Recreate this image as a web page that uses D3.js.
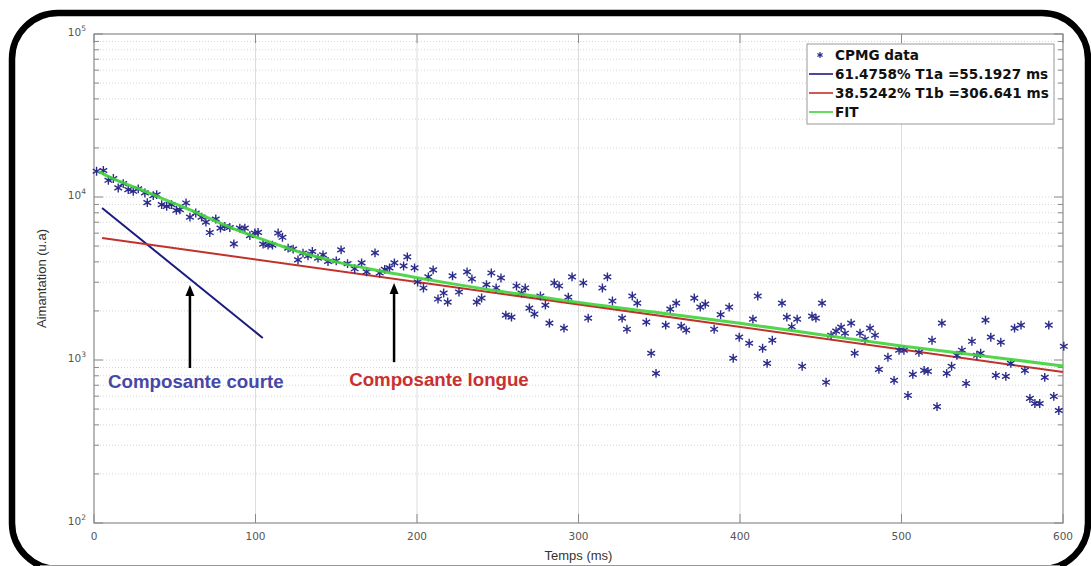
<!DOCTYPE html>
<html>
<head>
<meta charset="utf-8">
<script src="https://cdn.jsdelivr.net/npm/d3@7"></script>
<style>
  body { margin: 0; background: #fff; }
  svg { display: block; }
</style>
</head>
<body>
<svg id="chart" width="1091" height="566"></svg>
<script>
// --- data ---
const xTicks = [0, 100, 200, 300, 400, 500, 600];
const yDecades = [100, 1000, 10000, 100000];
const yExponents = ["2", "3", "4", "5"];

// CPMG echoes (ms, a.u.)
const timeMs = [
  1.6, 5.8, 8.9, 12, 15, 18.1, 21.2, 24.3, 27.4, 31.5, 33, 36.7, 38.8, 41.9, 45, 48, 51, 53.2, 57, 59.4,
  63, 66.6, 69.3, 71.7, 75.4, 78.3, 81, 84.1, 86.6, 90.3, 93.4, 96.5, 99.6, 101.6, 104.7, 107.8, 110.5, 114, 116.7, 120.2,
  123.3, 126.3, 129.4, 132.5, 135.2, 138.7, 141.8, 144.9, 150, 153, 157, 161.4, 165.7, 168.8, 174, 176.9, 180, 183, 186, 191.7,
  194, 198.5, 200.4, 204, 207, 210, 213, 216.5, 219, 222, 226, 231, 234, 237, 240, 243, 246, 249, 252, 255,
  258.5, 261.6, 264.7, 267, 269.6, 272.7, 276.4, 279.5, 282, 285, 288, 291, 293.7, 296, 303, 306, 314.8, 317.9, 321, 327,
  330, 333.3, 336.4, 342, 345, 348, 354, 356.8, 360.5, 363.6, 366.7, 371.7, 375.4, 378.5, 384, 388, 393.3, 395.8, 399.5, 405.7,
  408, 411, 414, 416.8, 420, 426, 429, 432, 435.4, 438.5, 444.6, 447, 450.8, 453.3, 456.4, 459.5, 462.6, 465, 468.8, 471,
  474.3, 477.4, 480.5, 483.6, 486, 491.6, 495.4, 498.5, 501.5, 504, 507, 510.8, 514, 516.4, 518.9, 522, 525, 528, 531, 534.3,
  537.4, 540, 543.6, 546.7, 549, 552, 555.3, 558.4, 561.5, 564.6, 567.7, 570, 574, 576.4, 579.5, 582.6, 585.6, 588.7, 591.2, 594.3,
  597.4, 600.5
];
const signal = [
  14390, 14540, 12665, 12980, 11365, 12080, 11100, 10840, 11210, 10590, 9240, 10190, 10340, 8975, 8755, 8975, 8280, 8355, 9190, 7530,
  7970, 7530, 7015, 6055, 7330, 6440, 6590, 6500, 5160, 6440, 6440, 5795, 6010, 6070, 5140, 5070, 5070, 6010, 5660, 4858,
  4790, 4110, 4524, 4355, 4630, 4215, 4415, 4020, 4055, 4742, 3900, 3627, 3941, 3470, 4543, 3420, 3600, 3673, 3941, 3776,
  4294, 3673, 3011, 2766, 3233, 3574, 2366, 2576, 2267, 3279, 2612, 3470, 3141, 2267, 2400, 2900, 3420, 2766, 3187, 1886,
  1834, 2845, 2576, 2766, 2083, 1912, 2469, 2173, 1683, 2969, 2845, 1568, 2432, 3233, 2969, 1807, 2766, 3233, 2300, 1807,
  1545, 2469, 2235, 1707, 1100, 828, 1636, 2053, 2235, 1613, 1524, 2399, 2112, 2204, 1545, 1900, 2112, 1025, 1380, 1267,
  1781, 2469, 1181, 954, 1322, 2235, 1833, 1600, 1781, 915, 1859, 1807, 2235, 730, 1419, 1503, 1591, 1460, 1683, 1100,
  1460, 1341, 1568, 1419, 876, 1039, 750, 1148, 1148, 606, 817, 1115, 864, 852, 1322, 518, 1683, 828, 915, 1069,
  1148, 718, 1303, 1069, 1100, 1756, 1380, 805, 1285, 794, 954, 1568, 1636, 864, 581, 541, 541, 782, 1636, 598,
  490, 1214
];

// fitted curve and the two components
const fitT = [3, 10, 20, 30, 40, 50, 60, 70, 80, 90, 100, 110, 120, 130, 140, 150, 175, 200, 225, 250, 275, 300, 350, 400, 450, 500, 550, 600];
const fitV = [14300, 13200, 12000, 11000, 10000, 9100, 8300, 7500, 6800, 6200, 5700, 5250, 4850, 4500, 4250, 4000, 3550, 3200, 2900, 2650, 2450, 2250, 1950, 1680, 1430, 1220, 1060, 918];
const shortT = [5, 104.5];
const shortV = [8560, 1365];
const longT = [5, 600];
const longV = [5600, 844];

const legendLabels = ["CPMG data", "61.4758% T1a =55.1927 ms", "38.5242% T1b =306.641 ms", "FIT"];
const arrowT = [59.4, 185.8];
const arrowFrom = [893, 970];
const arrowTo = [2885, 2965];
const noteLabels = ["Composante courte", "Composante longue"];
const noteT = [8.7, 158];
const noteV = [673, 692];

// --- layout ---
const svg = d3.select("#chart");
const margin = { left: 94, right: 1063, top: 34, bottom: 523 };

const x = d3.scaleLinear().domain([0, 600]).range([margin.left, margin.right]);
const y = d3.scaleLog().domain([100, 100000]).range([margin.bottom, margin.top]);

const navy = "#1c1c7e";
const red = "#c0322c";
const green = "#3fd23a";
const starColor = "#2b2b8c";

svg.append("rect").attr("width", 1091).attr("height", 566).attr("fill", "#fff");

// minor values for log grid
const minorVals = [];
for (let d = 100; d < 100000; d *= 10) {
    for (let k = 2; k <= 9; k++) minorVals.push(d * k);
}

// horizontal grid (dotted)
svg.append("g").selectAll("line")
    .data(minorVals.concat([1000, 10000]))
    .join("line")
    .attr("x1", margin.left).attr("x2", margin.right)
    .attr("y1", d => y(d)).attr("y2", d => y(d))
    .attr("stroke", "#d6d6d6")
    .attr("stroke-width", 1)
    .attr("stroke-dasharray", "1,2");

// vertical grid
svg.append("g").selectAll("line")
    .data(xTicks.slice(1, -1))
    .join("line")
    .attr("x1", d => x(d)).attr("x2", d => x(d))
    .attr("y1", margin.top).attr("y2", margin.bottom)
    .attr("stroke", "#dcdcdc")
    .attr("stroke-width", 1);

// frame of the axes
svg.append("rect")
    .attr("x", margin.left).attr("y", margin.top)
    .attr("width", margin.right - margin.left)
    .attr("height", margin.bottom - margin.top)
    .attr("fill", "none")
    .attr("stroke", "#8a8a8a")
    .attr("stroke-width", 1.2);

// ticks, drawn inward on all four sides
const tickG = svg.append("g").attr("stroke", "#8a8a8a").attr("stroke-width", 1);
xTicks.forEach(t => {
    tickG.append("line").attr("x1", x(t)).attr("x2", x(t)).attr("y1", margin.bottom).attr("y2", margin.bottom - 9);
    tickG.append("line").attr("x1", x(t)).attr("x2", x(t)).attr("y1", margin.top).attr("y2", margin.top + 9);
});
yDecades.forEach(v => {
    tickG.append("line").attr("x1", margin.left).attr("x2", margin.left + 9).attr("y1", y(v)).attr("y2", y(v));
    tickG.append("line").attr("x1", margin.right).attr("x2", margin.right - 9).attr("y1", y(v)).attr("y2", y(v));
});
minorVals.forEach(v => {
    tickG.append("line").attr("x1", margin.left).attr("x2", margin.left + 5).attr("y1", y(v)).attr("y2", y(v));
    tickG.append("line").attr("x1", margin.right).attr("x2", margin.right - 5).attr("y1", y(v)).attr("y2", y(v));
});

// tick labels
svg.append("g").selectAll("text")
    .data(xTicks)
    .join("text")
    .attr("x", d => x(d))
    .attr("y", 540)
    .attr("text-anchor", "middle")
    .attr("font-family", "DejaVu Sans, sans-serif")
    .attr("font-size", 10.5)
    .attr("fill", "#555")
    .text(d => d);

const yLab = svg.append("g").selectAll("text")
    .data(yDecades)
    .join("text")
    .attr("x", margin.left - 8)
    .attr("y", (d, i) => y(d) + 2)
    .attr("text-anchor", "end")
    .attr("font-family", "DejaVu Sans, sans-serif")
    .attr("font-size", 10.5)
    .attr("fill", "#555");
yLab.append("tspan").text("10");
yLab.append("tspan").attr("font-size", 7.5).attr("dy", -5).text((d, i) => yExponents[i]);

// axis titles
svg.append("text")
    .attr("x", (margin.left + margin.right) / 2)
    .attr("y", 560)
    .attr("text-anchor", "middle")
    .attr("font-family", "Liberation Sans, Arial, sans-serif")
    .attr("font-size", 13)
    .attr("fill", "#333")
    .text("Temps (ms)");

svg.append("text")
    .attr("transform", `translate(46,${(margin.top + margin.bottom) / 2}) rotate(-90)`)
    .attr("text-anchor", "middle")
    .attr("font-family", "Liberation Sans, Arial, sans-serif")
    .attr("font-size", 13)
    .attr("fill", "#333")
    .text("Aimantation (u.a)");

// lines
const line = d3.line().x(d => x(d[0])).y(d => y(d[1]));
const plotArea = svg.append("g");

plotArea.append("path")
    .datum(shortT.map((t, i) => [t, shortV[i]]))
    .attr("d", line)
    .attr("fill", "none").attr("stroke", navy).attr("stroke-width", 2);

plotArea.append("path")
    .datum(longT.map((t, i) => [t, longV[i]]))
    .attr("d", line)
    .attr("fill", "none").attr("stroke", red).attr("stroke-width", 2);

// scatter
const star = d3.symbol().type(d3.symbolAsterisk).size(55);
plotArea.append("g").selectAll("path")
    .data(timeMs.map((t, i) => [t, signal[i]]))
    .join("path")
    .attr("transform", d => `translate(${x(d[0])},${y(d[1])})`)
    .attr("d", star)
    .attr("fill", "none")
    .attr("stroke", starColor)
    .attr("stroke-width", 1.4);

plotArea.append("path")
    .datum(fitT.map((t, i) => [t, fitV[i]]))
    .attr("d", line.curve(d3.curveMonotoneX))
    .attr("fill", "none").attr("stroke", green).attr("stroke-width", 3).attr("opacity", 0.9);

// legend
const lg = svg.append("g");
lg.append("rect")
    .attr("x", 807).attr("y", 44).attr("width", 247).attr("height", 80)
    .attr("fill", "#fff").attr("stroke", "#999").attr("stroke-width", 1);
const rowY = [55, 74, 93, 112];
const rowColors = [starColor, navy, red, green];
legendLabels.forEach((lab, i) => {
    if (i === 0) {
        lg.append("path")
            .attr("transform", `translate(820,${rowY[i]})`)
            .attr("d", d3.symbol().type(d3.symbolAsterisk).size(25))
            .attr("fill", "none").attr("stroke", starColor).attr("stroke-width", 1.2);
    } else {
        lg.append("line")
            .attr("x1", 809).attr("x2", 833)
            .attr("y1", rowY[i]).attr("y2", rowY[i])
            .attr("stroke", rowColors[i]).attr("stroke-width", 1.6);
    }
    lg.append("text")
        .attr("x", 835).attr("y", rowY[i] + 5)
        .attr("font-family", "DejaVu Sans, sans-serif")
        .attr("font-weight", "bold")
        .attr("font-size", 13.6)
        .attr("fill", "#111")
        .text(lab);
});

// annotations
const noteColors = ["#4747a8", "#c93030"];
arrowT.forEach((t, i) => {
    const xa = x(t), y0 = y(arrowFrom[i]), y1 = y(arrowTo[i]);
    svg.append("line")
        .attr("x1", xa).attr("x2", xa).attr("y1", y0).attr("y2", y1 + 8)
        .attr("stroke", "#000").attr("stroke-width", 2.5);
    svg.append("path")
        .attr("d", `M${xa},${y1} L${xa - 4.5},${y1 + 11} L${xa + 4.5},${y1 + 11} Z`)
        .attr("fill", "#000");
    svg.append("text")
        .attr("x", x(noteT[i])).attr("y", y(noteV[i]))
        .attr("font-family", "Liberation Sans, Arial, sans-serif")
        .attr("font-weight", "bold")
        .attr("font-size", 18.7)
        .attr("fill", noteColors[i])
        .text(noteLabels[i]);
});

// outer rounded frame (bottom edge runs just off the picture)
svg.append("rect")
    .attr("x", 12).attr("y", 13).attr("width", 1076).attr("height", 556)
    .attr("rx", 46).attr("ry", 46)
    .attr("fill", "none").attr("stroke", "#000").attr("stroke-width", 6.5);
svg.append("line")
    .attr("x1", 40).attr("x2", 1060).attr("y1", 565.5).attr("y2", 565.5)
    .attr("stroke", "#999").attr("stroke-width", 1);
</script>
</body>
</html>
